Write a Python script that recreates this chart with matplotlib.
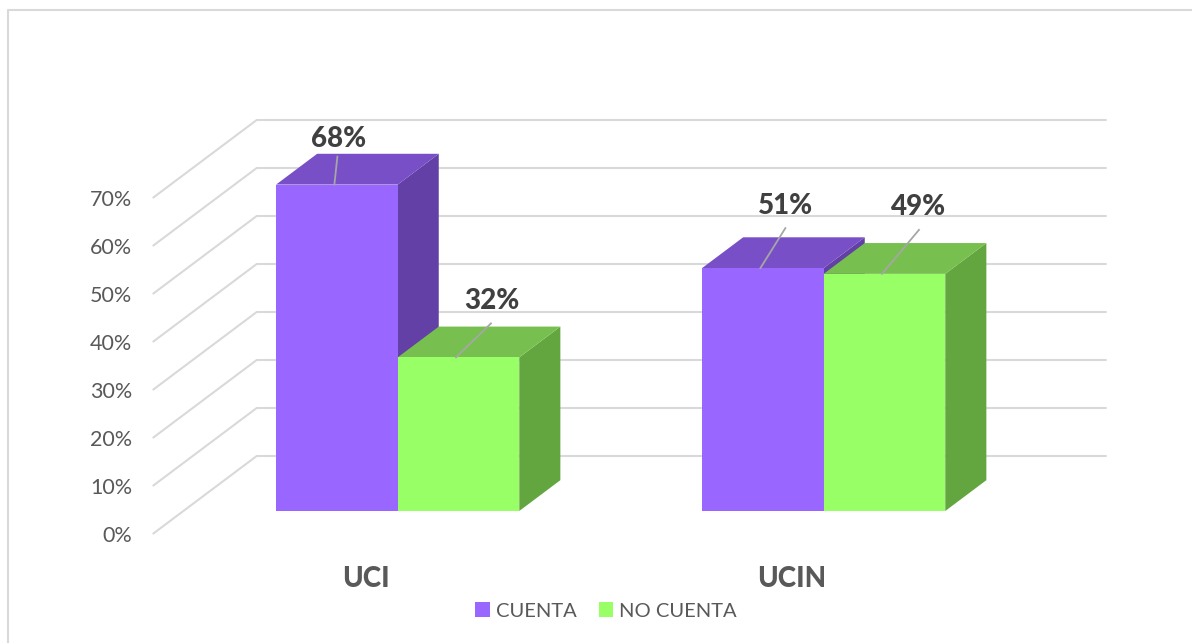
import matplotlib
matplotlib.use("Agg")
import matplotlib.pyplot as plt
import numpy as np
from matplotlib.lines import Line2D
from matplotlib.patches import Patch, Polygon

categories = ["UCI", "UCIN"]
series_names = ["CUENTA", "NO CUENTA"]
cuenta = [68, 50.6]
no_cuenta = [32, 49.4]
y_ticks = [0, 10, 20, 30, 40, 50, 60, 70]

# leader line end relative to bar top, in pixels: one pair per bar
leaders = [[(3, 28), (35, 34)], [(25, 40), (37, 44)]]
# label centre relative to leader end, in pixels
label_off = [[(1, 18), (1, 22)], [(0, 22), (0, 23)]]

colors = ["#9966FF", "#99FF66"]
side_colors = ["#6340A6", "#63A63F"]
top_colors = ["#784FC6", "#77C04F"]

W, H = 1192, 643
px_x = 426.0  # pixels per category
px_y = 4.8  # pixels per percent
x0_px, y0_px = 154.0, 534.0

depth_x = 104 / px_x
depth_y = 78 / px_y
bar_w = 121.6 / px_x
bar_d0 = 0.295
bar_d1 = 0.69

plt.rcParams["font.family"] = ["Lato", "DejaVu Sans"]

fig = plt.figure(figsize=(W / 100, H / 100), dpi=100)
ax = fig.add_axes([0, 0, 1, 1])
ax.set_xlim(-x0_px / px_x, (W - x0_px) / px_x)
ax.set_ylim((y0_px - H) / px_y, y0_px / px_y)
ax.axis("off")


def proj(x, y, d):
    return x + d * depth_x, y + d * depth_y


# chart area border, only top and left show in the picture
fig.add_artist(Line2D([1, 8 / W, 8 / W], [1 - 10 / H, 1 - 10 / H, 0],
                      color="#D9D9D9", lw=1.5))

grid_x0, grid_x1 = -0.003, 1.992
for t in y_ticks:
    xs = [grid_x0, grid_x0 + depth_x, grid_x1 + depth_x]
    ys = [t, t + depth_y, t + depth_y]
    ax.plot(xs, ys, color="#D9D9D9", lw=1.5, zorder=1, solid_capstyle="butt")
    ax.text(-22 / px_x, t - 0.4, f"{t}%", ha="right", va="center", fontsize=15.5, color="#595959")


def draw_bar(x_left, val, i, z):
    x_right = x_left + bar_w
    front = [proj(x_left, 0, bar_d0), proj(x_right, 0, bar_d0),
             proj(x_right, val, bar_d0), proj(x_left, val, bar_d0)]
    side = [proj(x_right, 0, bar_d0), proj(x_right, 0, bar_d1),
            proj(x_right, val, bar_d1), proj(x_right, val, bar_d0)]
    top = [proj(x_left, val, bar_d0), proj(x_right, val, bar_d0),
           proj(x_right, val, bar_d1), proj(x_left, val, bar_d1)]
    ax.add_patch(Polygon(side, closed=True, fc=side_colors[i], ec="none", zorder=z))
    ax.add_patch(Polygon(top, closed=True, fc=top_colors[i], ec="none", zorder=z))
    ax.add_patch(Polygon(front, closed=True, fc=colors[i], ec="none", zorder=z))


for c, cat in enumerate(categories):
    center = c + 0.5
    for i, vals in enumerate([cuenta, no_cuenta]):
        val = vals[c]
        x_left = center - bar_w + i * bar_w
        draw_bar(x_left, val, i, 2 + i)
        bx, by = proj(x_left + bar_w / 2, val, bar_d0)
        bx -= 2.5 / px_x
        dx, dy = leaders[c][i]
        lx, ly = label_off[c][i]
        ax.plot([bx, bx + dx / px_x], [by, by + dy / px_y], color="#A6A6A6", lw=1.3, zorder=5)
        ax.text(bx + (dx + lx) / px_x, by + (dy + ly) / px_y, f"{round(val)}%", ha="center", va="center",
                fontsize=20, fontweight=900, color="#404040", zorder=6)
    ax.text(center - 1.5 / px_x, -9.3, cat, ha="center", va="center", fontsize=20, fontweight=900, color="#595959")

handles = [Patch(fc=colors[i], ec="none", label=series_names[i]) for i in range(2)]
fig.legend(handles=handles, loc="center", bbox_to_anchor=(606 / W, 1 - 611 / H), ncol=2, frameon=False,
           fontsize=14.5, labelcolor="#595959", handlelength=0.72, handleheight=0.72,
           handletextpad=0.3, columnspacing=1.1)

fig.savefig("out.png", dpi=100)
